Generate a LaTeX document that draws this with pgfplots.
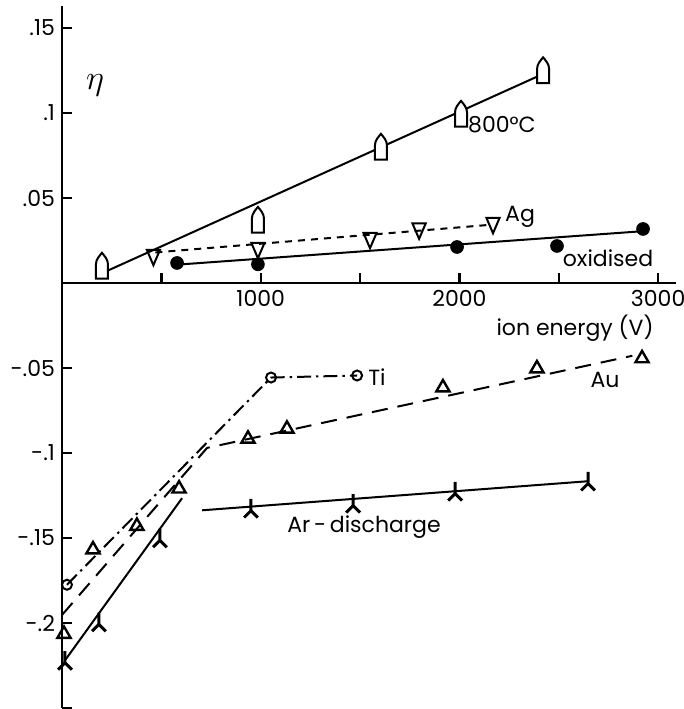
\documentclass[border=0pt]{standalone}
\usepackage{fontspec}
\setmainfont{Poppins}
\usepackage{pgfplots}
\pgfplotsset{compat=1.18}
\pgfdeclareplotmark{house}{%
\pgfpathmoveto{\pgfpoint{-\pgfplotmarksize}{-2.1\pgfplotmarksize}}%
\pgfpathlineto{\pgfpoint{\pgfplotmarksize}{-2.1\pgfplotmarksize}}%
\pgfpathlineto{\pgfpoint{\pgfplotmarksize}{0.3\pgfplotmarksize}}%
\pgfpathcurveto{\pgfpoint{\pgfplotmarksize}{1.1\pgfplotmarksize}}{\pgfpoint{0.4\pgfplotmarksize}{1.7\pgfplotmarksize}}{\pgfpoint{0pt}{2.2\pgfplotmarksize}}%
\pgfpathcurveto{\pgfpoint{-0.4\pgfplotmarksize}{1.7\pgfplotmarksize}}{\pgfpoint{-\pgfplotmarksize}{1.1\pgfplotmarksize}}{\pgfpoint{-\pgfplotmarksize}{0.3\pgfplotmarksize}}%
\pgfpathclose
\pgfusepathqfillstroke}
\pgfdeclareplotmark{lam}{%
\pgfpathmoveto{\pgfpoint{0pt}{1.55\pgfplotmarksize}}%
\pgfpathlineto{\pgfpoint{0pt}{-0.4\pgfplotmarksize}}%
\pgfpathlineto{\pgfpoint{-1.15\pgfplotmarksize}{-1.55\pgfplotmarksize}}%
\pgfpathmoveto{\pgfpoint{0pt}{-0.4\pgfplotmarksize}}%
\pgfpathlineto{\pgfpoint{1.15\pgfplotmarksize}{-1.55\pgfplotmarksize}}%
\pgfusepathqstroke}
\newcommand{\lab}{\fontsize{11}{13}\selectfont}
\begin{document}
\begin{tikzpicture}
\begin{axis}[
 scale only axis, width=307pt, height=351pt,
 xmin=0, xmax=3090, ymin=-0.25, ymax=0.163,
 axis lines=middle, axis line style={-, line width=1.4pt},
 xtick={500,1000,1500,2000,2500,3000}, xticklabels={,1000,,2000,,3000},
 ytick={-0.25,-0.2,-0.15,-0.1,-0.05,0.05,0.1,0.15},
 yticklabels={,-.2,-.15,-.1,-.05,.05,.1,.15},
 tick align=inside, major tick length=5pt, tick style={line width=1.2pt, black},
 ticklabel style={font=\lab},
 /pgf/number format/assume math mode=true,
 clip=false,
]
% 800 C
\addplot[line width=1pt, black] coordinates {(200,0.0057) (2421,0.123)};
\addplot[only marks, mark=house, mark size=3pt, mark options={fill=white, line width=1pt}] coordinates {(201,0.010) (986,0.037) (1605,0.080) (2008,0.0994) (2421,0.125)};
% Ag
\addplot[line width=1pt, black, dash pattern=on 3.5pt off 3pt] coordinates {(470,0.018) (2160,0.0343)};
\addplot[only marks, mark=triangle, mark size=3.8pt, mark options={yscale=-1.35, fill=white, line width=1pt}] coordinates {(460,0.0165) (986,0.0206) (1550,0.0265) (1797,0.032) (2169,0.0353)};
% oxidised
\addplot[line width=1pt, black] coordinates {(579,0.0108) (2924,0.0305)};
\addplot[only marks, mark=*, mark size=3.2pt, mark options={fill=black}] coordinates {(579,0.0118) (986,0.011) (1988,0.0212) (2491,0.0218) (2924,0.0318)};
% Ti
\addplot[line width=1pt, black, dash pattern=on 7pt off 2.5pt on 1.2pt off 2.5pt, mark=o, mark size=2.5pt, mark options={solid, fill=white, line width=1pt}] coordinates {(25,-0.1775) (1052,-0.0556) (1485,-0.0544)};
% Au
\addplot[line width=1pt, black, dash pattern=on 8pt off 5pt] coordinates {(0,-0.1953) (730,-0.097) (2870,-0.0428)};
\addplot[only marks, mark=triangle, mark size=3.8pt, mark options={fill=white, line width=1.2pt}] coordinates {(10,-0.2065) (156,-0.1568) (377,-0.143) (589,-0.121) (936,-0.0917) (1132,-0.0858) (1917,-0.0615) (2390,-0.0503) (2919,-0.0444)};
% Ar discharge
\addplot[line width=1pt, black] coordinates {(15,-0.222) (604,-0.1266)};
\addplot[line width=1pt, black] coordinates {(705,-0.1337) (2647,-0.1166)};
\addplot[only marks, mark=lam, mark size=3pt, mark options={line width=1.5pt}] coordinates {(15,-0.222) (186,-0.1994) (493,-0.150) (951,-0.1325) (1465,-0.1296) (1978,-0.1225) (2647,-0.1166)};
% labels
\node[font=\lab] at (axis cs:2214,0.093) {800°C};
\node[font=\lab] at (axis cs:2305,0.0388) {Ag};
\node[font=\lab] at (axis cs:2748,0.0147) {oxidised};
\node[font=\lab] at (axis cs:2582,-0.0265) {ion energy (V)};
\node[font=\lab] at (axis cs:1585,-0.0553) {Ti};
\node[font=\lab] at (axis cs:2733,-0.057) {Au};
\node[font=\lab] at (axis cs:1520,-0.1435) {Ar\,-\,discharge};
\node[font=\fontsize{17}{20}\selectfont] at (axis cs:166,0.1165) {$\eta$};
\coordinate (bl) at (axis cs:-312,-0.2506);
\coordinate (tr) at (axis cs:3130,0.1665);
\end{axis}
\pgfresetboundingbox
\useasboundingbox (bl) rectangle (tr);
\end{tikzpicture}
\end{document}
